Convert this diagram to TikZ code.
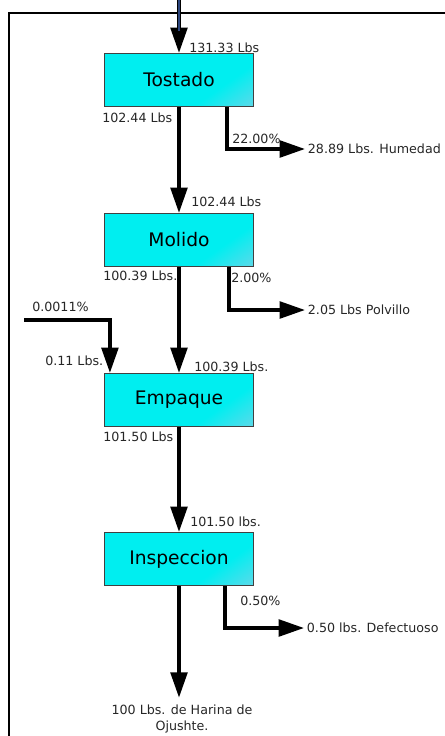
\documentclass[tikz,border=0pt]{standalone}
\usepackage{fontspec}
\setmainfont{DejaVu Sans}
\usepackage{xcolor}
\usepackage{tikz}
\usetikzlibrary{positioning, calc, arrows.meta}

\definecolor{cajaclara}{RGB}{0,238,240}
\definecolor{cajaoscura}{RGB}{170,200,228}
\definecolor{flujoazul}{RGB}{45,70,125}
\pgfdeclarehorizontalshading{cajashade}{100bp}{color(0bp)=(cajaclara); color(66bp)=(cajaclara); color(100bp)=(cajaoscura)}

\begin{document}
\begin{tikzpicture}[x=0.75pt, y=-0.75pt]
			\tikzstyle{proceso}=[draw=black!75, line width=0.6pt, minimum height=40pt, minimum width=112pt, shading=cajashade, shading angle=-55, font=\fontsize{14}{16}\selectfont]
			\tikzstyle{flujo}=[line width=2.6pt, -{Triangle[length=19pt, width=12.5pt]}]
			\tikzstyle{dato}=[anchor=base west, inner sep=0pt, font=\fontsize{9.5}{12}\selectfont, text=black!85]
			
			\useasboundingbox (0,0) rectangle (445,736);
			\draw [line width=1.5pt] (445,13) -- (9,13) -- (9,736);
			
			\node (p0) at (179,80) [proceso] {Tostado};
			\node (p1) at (179,240) [proceso] {Molido};
			\node (p2) at (179,400) [proceso] {Empaque};
			\node (p3) at (179,559) [proceso] {Inspeccion};
			
			%% salidas a la derecha
			\node (s0) at (305,149) [dato, anchor=west, inner sep=2pt] {28.89 Lbs. Humedad};
			\node (s1) at (305,310) [dato, anchor=west, inner sep=2pt] {2.05 Lbs Polvillo};
			\node (s2) at (304,628) [dato, anchor=west, inner sep=2pt] {0.50 lbs. Defectuoso};
			\node (s3) at (182,703) [dato, anchor=north, inner sep=1.5pt, align=center] {100 Lbs. de Harina de\\Ojushte.};
			
			\coordinate (e0) at (179,0);
			\coordinate (e1) at (24,320);
			
			%% entrada: punta negra, cuerpo azul
			\draw [flujo] (e0) -- (p0);
			\draw [flujoazul, line width=2.2pt] (e0) -- ($(p0.north)+(0,-22)$);
			
			\draw [flujo] (p0) -- (p1);
			\draw [flujo] (p1) -- (p2);
			\draw [flujo] (p2) -- (p3);
			\draw [flujo, shorten >=4pt] (p3) -- (p3 |- s3.north);
			
			\draw [flujo] ($(p0.south)+(48,0)$) |- (s0.west);
			\draw [flujo] ($(p1.south)+(50,0)$) |- (s1.west);
			\draw [flujo] ($(p3.south)+(46,0)$) |- (s2.west);
			\draw [flujo] (e1) -| ($(p2.north west)+(6,0)$);
			
			\node (l0) at (189,52) [dato] {131.33 Lbs};
			\node (l1) at (102,122) [dato] {102.44 Lbs};
			\node (l2) at (232,143) [dato] {22.00\%};
			\node (l3) at (191,206) [dato] {102.44 Lbs};
			\node (l4) at (103,280) [dato] {100.39 Lbs.};
			\node (l5) at (231,282) [dato] {2.00\%};
			\node (l6) at (32,311) [dato] {0.0011\%};
			\node (l7) at (45,365) [dato] {0.11 Lbs.};
			\node (l8) at (194,371) [dato] {100.39 Lbs.};
			\node (l9) at (103,441) [dato] {101.50 Lbs};
			\node (l10) at (190,526) [dato] {101.50 lbs.};
			\node (l11) at (240,605) [dato] {0.50\%};
\end{tikzpicture}
\end{document}
